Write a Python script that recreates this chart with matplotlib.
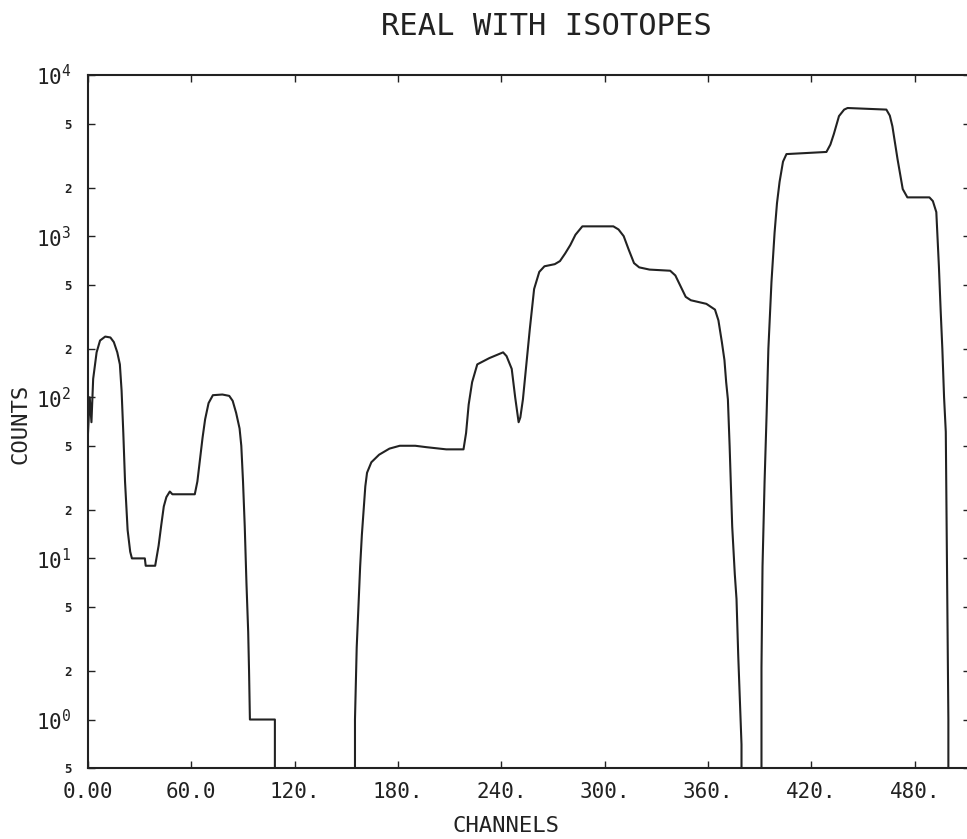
import matplotlib
matplotlib.use("Agg")
from matplotlib import pyplot as plt

# spectrum (channel, counts); 0 = empty channel
channels = [0, 1, 2, 3, 5, 7, 10, 13, 15, 17, 18.5, 19.5, 20.5, 21.5, 23, 24.5, 25.5,
            33, 33.5, 39, 41, 42.5, 44, 45.5, 47.5, 49, 62, 63.5, 65, 66.5, 68, 70,
            72.5, 78, 82, 84, 86, 88, 89, 90, 91, 92, 93, 93.5, 94, 108.5, 108.6,
            154.5, 155, 156, 157, 158, 159, 160, 161, 162, 164.5, 169, 175, 181, 190,
            196.5, 208, 218, 219.5, 221, 223, 226, 233, 241, 243, 246, 248, 250, 251,
            252.5, 254.5, 256.5, 259, 262, 265, 271, 274, 277, 280, 283, 287, 305,
            308, 311, 314, 317, 320, 326, 338, 341, 344, 347, 350, 359, 364, 366,
            368, 369.5, 370.5, 371.5, 372.5, 374, 375.5, 376.5, 377.5, 378.5, 379.4,
            379.5, 390.5, 391, 391.6, 392.8, 394, 395, 396.8, 398.6, 400, 401.5,
            403.5, 405.5, 428.7, 431, 433, 436, 439, 441, 463.5, 465.5, 467, 470,
            473, 475.7, 488.5, 490.5, 492.5, 494, 495, 496, 497, 498, 499, 499.5,
            500, 512]
counts = [60, 100, 70, 130, 190, 225, 238, 235, 220, 190, 160, 110, 60, 30, 15, 11, 10,
          10, 9, 9, 12, 16, 21, 24, 26, 25, 25, 30, 41, 56, 73, 92,
          103, 104, 102, 95, 80, 64, 50, 30, 15.8, 7, 3.5, 2, 1, 1, 0,
          0, 1, 2.8, 5, 8.9, 14, 20, 28, 34, 39.5, 44, 48, 50, 50,
          49, 47.5, 47.5, 60, 90, 124, 160, 175, 190, 180, 150, 100, 70, 75,
          97, 160, 265, 470, 600, 650, 670, 700, 780, 880, 1020, 1150, 1150,
          1100, 1000, 820, 680, 640, 620, 610, 570, 490, 420, 400, 380, 350, 300,
          220, 170, 124, 97, 50, 15.8, 8, 5.6, 2.5, 1.3, 0.7,
          0, 0, 2.1, 8.9, 30, 80, 200, 520, 1050, 1600, 2170,
          2900, 3230, 3330, 3700, 4300, 5560, 6100, 6240, 6100, 5600, 4810, 3000,
          1960, 1740, 1740, 1650, 1410, 650, 350, 200, 100, 61, 3.8, 1,
          0, 0]

x_ticks = [0, 60, 120, 180, 240, 300, 360, 420, 480]
x_labels = ["0.00", "60.0", "120.", "180.", "240.", "300.", "360.", "420.", "480."]
y_major = [1, 10, 100, 1000, 10000]
y_major_labels = [r"$\mathregular{10^{0}}$", r"$\mathregular{10^{1}}$",
                  r"$\mathregular{10^{2}}$", r"$\mathregular{10^{3}}$",
                  r"$\mathregular{10^{4}}$"]
y_minor = [0.5, 2, 5, 20, 50, 200, 500, 2000, 5000]
y_minor_labels = ["5", "2", "5", "2", "5", "2", "5", "2", "5"]

INK = "#222222"
plt.rcParams["font.family"] = "DejaVu Sans Mono"
plt.rcParams["mathtext.fontset"] = "custom"
plt.rcParams["mathtext.rm"] = "DejaVu Sans Mono"

fig = plt.figure(figsize=(9.67, 8.39), dpi=100)
ax = fig.add_axes([0.091, 0.0846, 0.912, 0.826])

ax.plot(channels, counts, color=INK, lw=1.5)
ax.set_yscale("log", nonpositive="clip")
ax.set_xlim(0, 512)
ax.set_ylim(0.5, 1e4)

ax.set_xticks(x_ticks, x_labels, fontsize=15, color=INK)
ax.set_yticks(y_major, y_major_labels, fontsize=15, color=INK)
ax.set_yticks(y_minor, y_minor_labels, minor=True, fontsize=9,
              fontweight="bold", color=INK)
ax.xaxis.set_minor_locator(plt.NullLocator())

ax.tick_params(which="both", direction="in", top=True, right=True, length=5,
               width=1, color=INK)
ax.tick_params(axis="x", pad=10)
ax.tick_params(axis="y", which="both", pad=12)
for side in ["left", "top", "bottom", "right"]:
    ax.spines[side].set_color(INK)
    ax.spines[side].set_linewidth(1.5)

fig.text(0.565, 0.969, "REAL WITH ISOTOPES", ha="center", va="center",
         fontsize=22, color=INK)
fig.text(0.523, 0.016, "CHANNELS", ha="center", va="center", fontsize=16, color=INK)
fig.text(0.021, 0.495, "COUNTS", ha="center", va="center", rotation=90,
         fontsize=16, color=INK)

fig.savefig("out.png", dpi=100)
